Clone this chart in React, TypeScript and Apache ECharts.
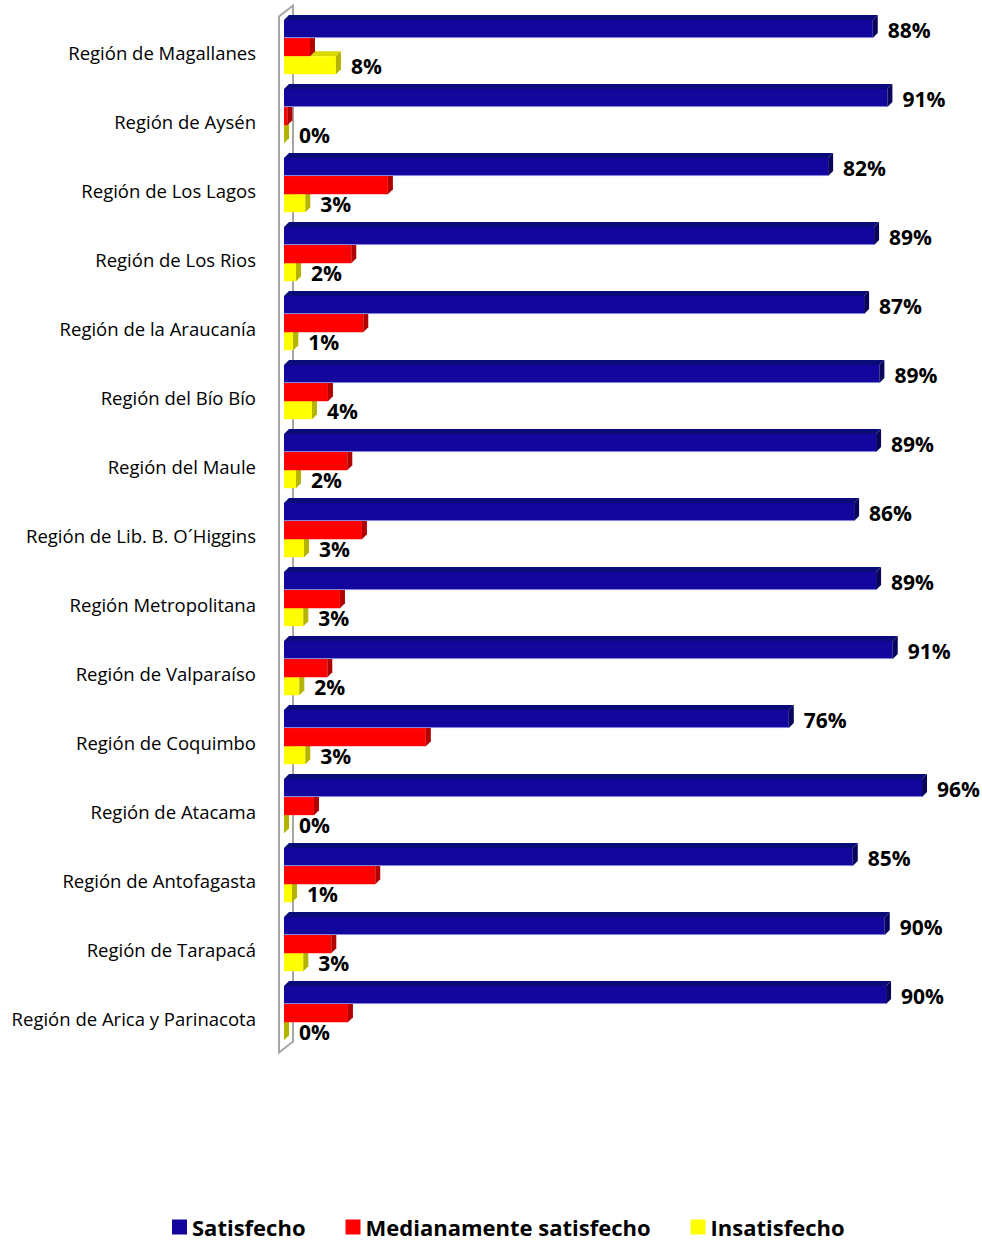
import React, { useEffect, useRef } from "react";
import * as echarts from "echarts";

const categories = [
  "Región de Magallanes",
  "Región de Aysén",
  "Región de Los Lagos",
  "Región de Los Rios",
  "Región de la Araucanía",
  "Región del Bío Bío",
  "Región del Maule",
  "Región de Lib. B. O´Higgins",
  "Región Metropolitana",
  "Región de Valparaíso",
  "Región de Coquimbo",
  "Región de Atacama",
  "Región de Antofagasta",
  "Región de Tarapacá",
  "Región de Arica y Parinacota",
];

const seriesNames = ["Satisfecho", "Medianamente satisfecho", "Insatisfecho"];

const satisfecho = [88.4, 90.6, 81.7, 88.6, 87.1, 89.4, 88.9, 85.6, 88.9, 91.4, 75.8, 95.8, 85.4, 90.2, 90.4];
const medianamente = [3.9, 0.5, 15.6, 10.1, 11.9, 6.6, 9.5, 11.7, 8.4, 6.5, 21.3, 4.5, 13.7, 7.1, 9.6];
const insatisfecho = [7.8, 0, 3.2, 1.8, 1.4, 4.2, 1.8, 3.0, 2.9, 2.3, 3.2, 0, 1.2, 2.9, 0];

const FONT = '"Open Sans", "DejaVu Sans", sans-serif';

const palette = [
  { front: "#12069c", top: "#0a0a78", side: "#08055a", label: true },
  { front: "#ff0000", top: "#d40000", side: "#b00000", label: false },
  { front: "#ffff00", top: "#d8d800", side: "#b4b400", label: true },
];

function makeRender(s: number) {
  return (params: any, api: any) => {
    const val = api.value(0);
    const idx = api.value(1);
    const p0 = api.coord([0, idx]);
    const p1 = api.coord([val, idx]);
    const band = api.size([0, 1])[1];
    const barH = band * 0.262;
    const c = p0[1];
    const yTop = c - band * 0.464 + s * barH;
    const x0 = p0[0];
    const x1 = p1[0];
    const d = 5;
    const col = palette[s];
    const children: any[] = [
      {
        type: "polygon",
        shape: { points: [[x0, yTop], [x0 + d, yTop - d], [x1 + d, yTop - d], [x1, yTop]] },
        style: { fill: col.top },
      },
      {
        type: "rect",
        shape: { x: x0, y: yTop, width: Math.max(0, x1 - x0), height: barH },
        style: { fill: col.front },
      },
      {
        type: "polygon",
        shape: { points: [[x1, yTop], [x1 + d, yTop - d], [x1 + d, yTop + barH - d], [x1, yTop + barH]] },
        style: { fill: col.side },
      },
    ];
    if (s === 0) {
      children.push({
        type: "line",
        shape: { x1: x0, y1: yTop + barH - 0.5, x2: x1, y2: yTop + barH - 0.5 },
        style: { stroke: "#8c8ce0", lineWidth: 1 },
      });
    }
    if (col.label) {
      children.push({
        type: "text",
        style: {
          text: Math.round(val) + "%",
          x: x1 + d + 10,
          y: yTop + barH / 2 + 1,
          verticalAlign: "middle",
          align: "left",
          font: `bold 21px ${FONT}`,
          fill: "#000000",
        },
      });
    }
    return { type: "group", children };
  };
}

function wallRender(params: any, api: any) {
  const cs = params.coordSys;
  const fx = cs.x - 5;
  const bx = cs.x + 9;
  const top = cs.y - 1;
  const bot = cs.y + cs.height;
  return {
    type: "polygon",
    shape: {
      points: [
        [fx, bot],
        [fx, top],
        [bx, top - 11],
        [bx, bot - 11],
      ],
    },
    style: { fill: "none", stroke: "#a6a6a6", lineWidth: 2 },
  };
}

export default function App() {
  const ref = useRef<HTMLDivElement>(null);
  useEffect(() => {
    if (!ref.current) return;
    const chart = echarts.init(ref.current, undefined, { renderer: "svg" });
    const datasets = [satisfecho, medianamente, insatisfecho];
    const series: any[] = [
      {
        type: "custom",
        name: "wall",
        renderItem: wallRender,
        data: [[0, 0]],
        encode: { x: 0, y: 1 },
        z: 1,
        silent: true,
      },
    ];
    datasets.forEach((arr, s) => {
      series.push({
        type: "custom",
        name: seriesNames[s],
        renderItem: makeRender(s),
        data: arr.map((v, i) => [v, i]),
        encode: { x: 0, y: 1 },
        itemStyle: { color: palette[s].front },
        z: 10 - s,
      });
    });
    chart.setOption({
      animation: false,
      backgroundColor: "#ffffff",
      grid: { left: 284, right: 32, top: 17.5, bottom: 190.5 },
      xAxis: {
        type: "value",
        min: 0,
        max: 100,
        show: false,
      },
      yAxis: {
        type: "category",
        data: categories,
        inverse: true,
        axisLine: { show: false },
        axisTick: { show: false },
        axisLabel: {
          margin: 28,
          fontFamily: FONT,
          fontSize: 18.5,
          color: "#000000",
        },
      },
      legend: {
        data: seriesNames,
        top: 1213,
        left: 167,
        padding: [0, 5, 0, 5],
        itemWidth: 15,
        itemHeight: 15,
        itemGap: 40,
        icon: "rect",
        textStyle: { fontFamily: FONT, fontSize: 22, fontWeight: "bold", color: "#000000", lineHeight: 28 },
      },
      series,
    });
    return () => chart.dispose();
  }, []);
  return (
    <div
      ref={ref}
      style={{ position: "fixed", left: 0, top: 0, width: 982, height: 1243 }}
    />
  );
}
